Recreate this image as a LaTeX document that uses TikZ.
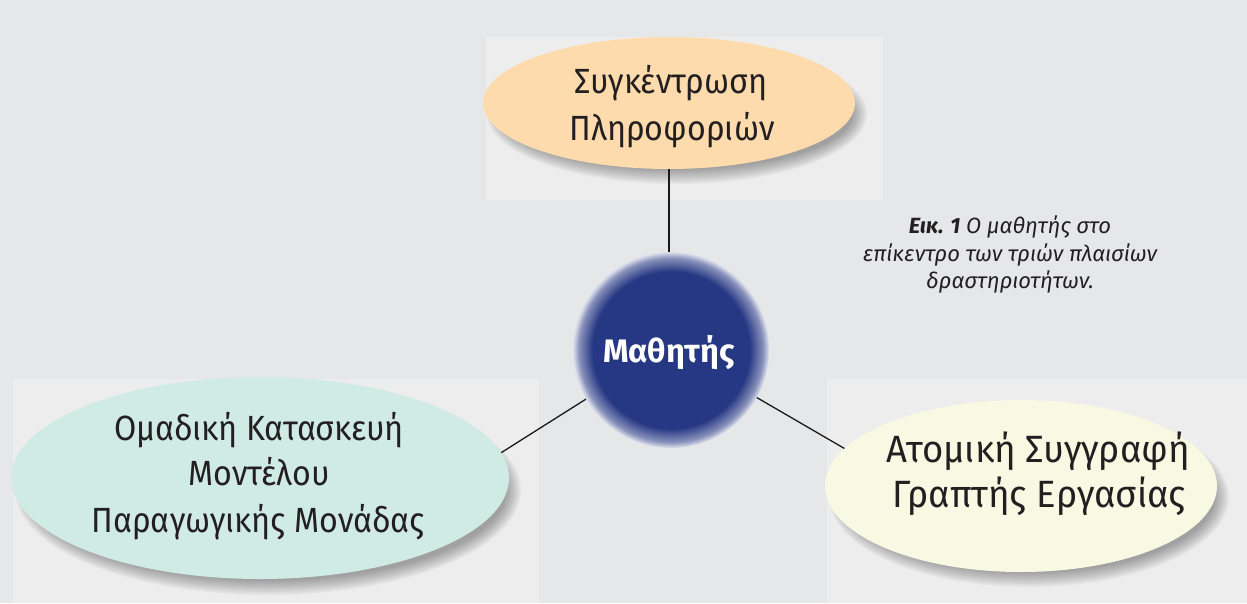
\documentclass[tikz,border=0pt]{standalone}
\usepackage{fontspec}
\setmainfont{Fira Sans}
\newfontfamily\narrowfont{Fira Sans}[FakeStretch=0.92]
\newfontfamily\wideishfont{Fira Sans}[FakeStretch=0.96]
\usetikzlibrary{shapes.geometric}
\definecolor{bg}{RGB}{230,231,233}
\definecolor{panel}{RGB}{237,237,237}
\definecolor{peach}{RGB}{253,219,173}
\definecolor{mint}{RGB}{207,235,227}
\definecolor{cream}{RGB}{247,249,227}
\definecolor{navyc}{RGB}{38,55,131}
\colorlet{navymid}{navyc!55!white}
\colorlet{navyedge}{navyc!15!white}
\definecolor{ink}{RGB}{35,31,32}
\pgfdeclareradialshading{glowblue}{\pgfpoint{0bp}{0bp}}{color(0bp)=(navyc); color(20bp)=(navyc); color(23.5bp)=(navymid); color(25bp)=(navyedge); color(50bp)=(navyedge)}
\newcommand{\myshadow}[4]{\foreach \k in {0,...,9}{\fill[black,opacity=0.035] (#1,#2) ellipse ({#3-\k*1.6} and {#4-\k*1.6});}}
\tikzset{
  bubble/.style={ellipse, inner sep=0pt, draw=none},
  lbl/.style={anchor=base, inner sep=0pt, text=ink, font=\narrowfont\fontsize{35}{46}\selectfont},
  lblbig/.style={anchor=base, inner sep=0pt, text=ink, font=\wideishfont\fontsize{38}{46}\selectfont},
  captxt/.style={anchor=base, inner sep=0pt, text=ink, font=\fontsize{22}{27}\selectfont\itshape},
  conn/.style={draw=black!90, line width=1.3pt},
}
\begin{document}
\begin{tikzpicture}[x=1pt,y=-1pt]
\useasboundingbox (0,0) rectangle (1247,603);
\fill[bg] (0,0) rectangle (1247,603);
\fill[panel] (486,37) rectangle (883,200);
\fill[panel] (13,379) rectangle (539,603);
\fill[panel] (827,379) rectangle (1247,603);
% shadows
\myshadow{677}{114}{190}{70}
\myshadow{268}{490}{253}{105}
\myshadow{1029}{497}{200}{90}
% bubbles
\node[bubble, fill=peach, minimum width=372pt, minimum height=132pt] (T) at (669,103) {};
\node[bubble, fill=mint, minimum width=498pt, minimum height=202pt] (L) at (260,478) {};
\node[bubble, fill=cream, minimum width=392pt, minimum height=172pt] (R) at (1021,486) {};
\node[circle, inner sep=0pt, minimum size=196pt, shading=glowblue] (C) at (671,350) {};
% connectors
\draw[conn, line width=2pt] (T.south) -- (T.south |- C.north);
\draw[conn] (C.210) -- (L.6);
\draw[conn] (C.331) -- (R.168.6);
% labels
\node[lbl] (t1) at (671,93) {Συγκέντρωση};
\node[lbl] (t2) at (672,140) {Πληροφοριών};
\node[lbl] (l1) at (259,440) {Ομαδική Κατασκευή};
\node[lbl] (l2) at (259,485) {Μοντέλου};
\node[lbl] (l3) at (258,532) {Παραγωγικής Μονάδας};
\node[lblbig] (r1) at (1038,462) {Ατομική Συγγραφή};
\node[lblbig] (r2) at (1039,507) {Γραπτής Εργασίας};
\node[anchor=base, inner sep=0pt, text=white, font=\fontsize{32.5}{40}\selectfont\bfseries] (c1) at (669,362) {Μαθητής};
% caption
\node[captxt] (k1) at (1010,233) {\textbf{Εικ. 1} Ο μαθητής στο};
\node[captxt] (k2) at (1010,261) {επίκεντρο των τριών πλαισίων};
\node[captxt] (k3) at (1010,288) {δραστηριοτήτων.};
\end{tikzpicture}
\end{document}
